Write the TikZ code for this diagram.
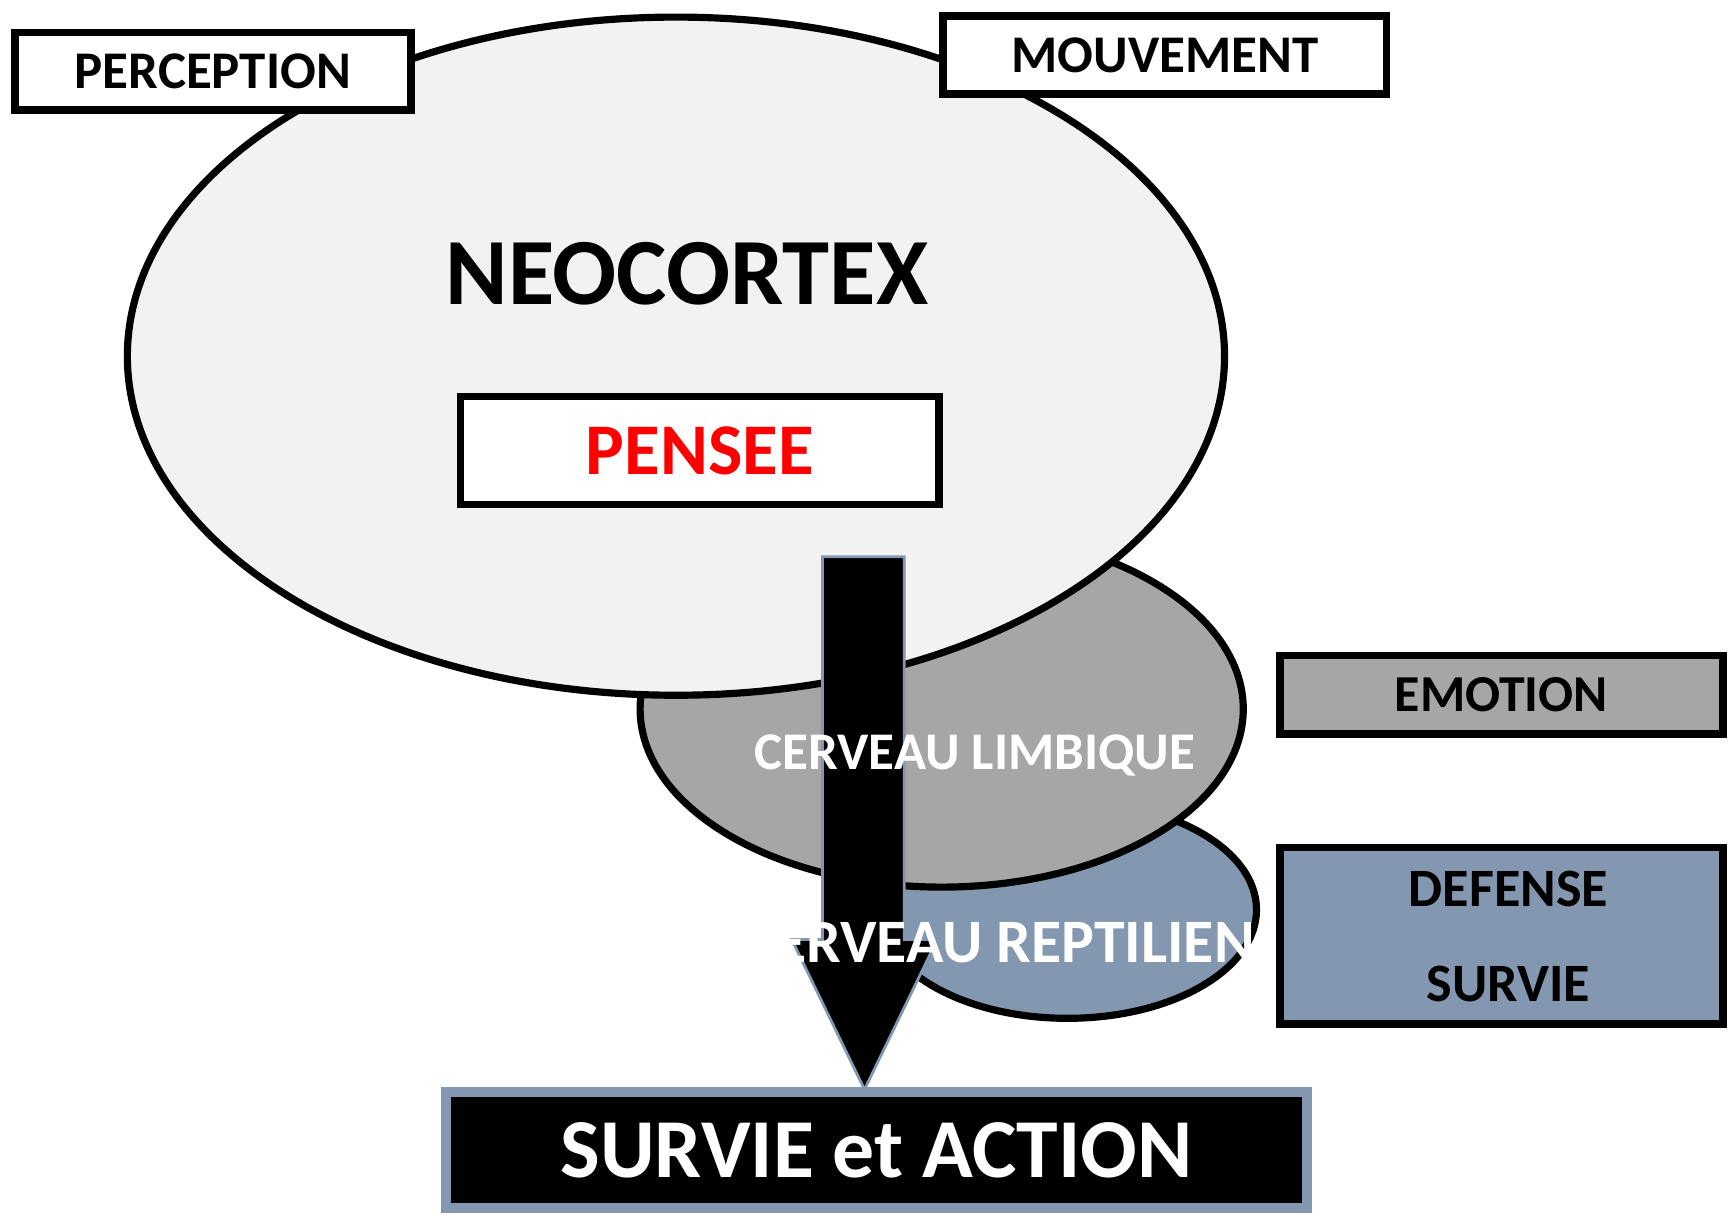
\documentclass[tikz,border=0pt]{standalone}
\usepackage{fontspec}
\setmainfont{Carlito}
\usetikzlibrary{shapes.geometric}
\definecolor{neo}{HTML}{F2F2F2}
\definecolor{limb}{HTML}{A6A6A6}
\definecolor{rept}{HTML}{8497B0}
\newcommand{\fsz}[1]{\fontsize{#1}{#1}\selectfont}
\begin{document}
\begin{tikzpicture}[x=1pt,y=-1pt,
  box/.style={rectangle, draw=black, line width=7pt, inner sep=0pt, font=\bfseries\fsz{48}},
  lobe/.style={ellipse, draw=black, line width=6.5pt, inner sep=0pt},
  lbl/.style={inner sep=0pt, font=\bfseries}]
\useasboundingbox (0,0) rectangle (1568,1102);
\fill[white] (0,0) rectangle (1568,1102);

% brain parts
\node[lobe, fill=rept, minimum width=343pt, minimum height=197pt] (rep) at (968,825) {};
\node[lobe, fill=limb, minimum width=547pt, minimum height=323pt] (lim) at (854,643) {};
\node[lobe, fill=neo, minimum width=995pt, minimum height=615pt] (neo) at (613,323) {};

% boxes
\node[box, fill=white, minimum width=359pt, minimum height=70pt] (perc) at (193,64.5) {PERCEPTION};
\node[box, fill=white, minimum width=402pt, minimum height=71pt] (mouv) at (1056.5,50) {MOUVEMENT};
\node[box, fill=white, minimum width=434pt, minimum height=98pt, text=red, font=\bfseries\fsz{66}] (pens) at (634.5,408.5) {PENSEE};
\node[box, fill=limb, minimum width=402pt, minimum height=71pt, font=\bfseries\fsz{47}] (emo) at (1361.5,630) {EMOTION};
\node[box, fill=rept, minimum width=402pt, minimum height=160pt] (def) at (1361.5,848.5) {};
\node[lbl, align=center, font=\bfseries\fontsize{49}{86}\selectfont] (deflbl) at (1368,849) {DEFENSE\\SURVIE};
\node[rectangle, draw=rept, fill=black, line width=9pt, inner sep=0pt, minimum width=781pt, minimum height=105pt, text=white, font=\bfseries\fsz{76}] (act) at (795,1043) {SURVIE et ACTION};

% arrow
\coordinate (atop) at (783,505);
\coordinate (tip) at (784,988);
\draw[fill=black, draw=rept, line width=2.5pt, line join=miter]
  ([xshift=-37pt]atop) -- ([xshift=37pt]atop) -- (820,852) -- (850,852) -- (tip)
  -- (718,852) -- (746,852) -- cycle;

% labels
\node[lbl, font=\bfseries\fsz{86}] (neolbl) at (623,248) {NEOCORTEX};
\node[lbl, text=white, font=\bfseries\fsz{48}] (limlbl) at (884,685) {CERVEAU LIMBIQUE};
\node[lbl, text=white, font=\bfseries\fsz{56}] (replbl) at (906,855) {CERVEAU REPTILIEN};
\end{tikzpicture}
\end{document}
